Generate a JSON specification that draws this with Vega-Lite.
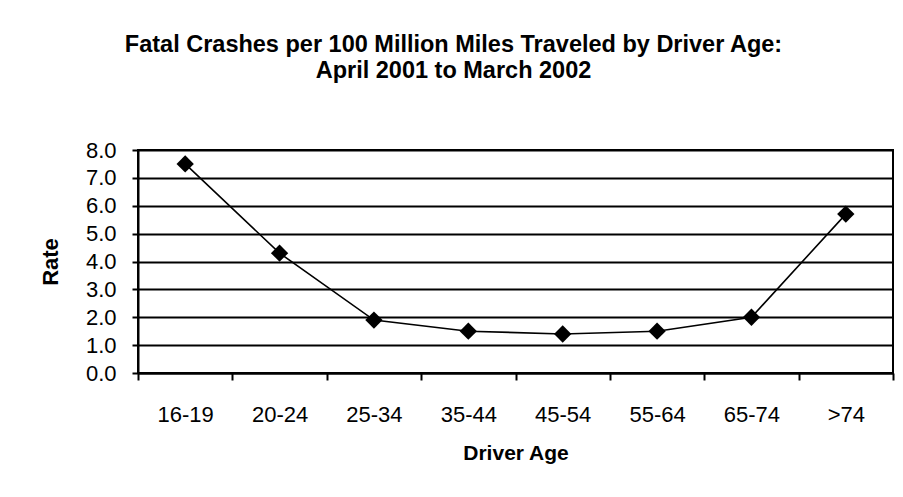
{
  "$schema": "https://vega.github.io/schema/vega-lite/v6.json",
  "autosize": "none",
  "width": 755,
  "height": 223,
  "padding": {"left": 138, "top": 150, "right": 10, "bottom": 124},
  "background": "white",
  "title": {
    "text": ["Fatal Crashes per 100 Million Miles Traveled by Driver Age:", "April 2001 to March 2002"],
    "font": "Liberation Sans",
    "fontSize": 23.5,
    "fontWeight": "bold",
    "color": "black",
    "anchor": "middle",
    "frame": "group",
    "dx": -62,
    "offset": 57,
    "lineHeight": 26
  },
  "data": {
    "values": [
      {"age": "16-19", "rate": 7.5},
      {"age": "20-24", "rate": 4.3},
      {"age": "25-34", "rate": 1.9},
      {"age": "35-44", "rate": 1.5},
      {"age": "45-54", "rate": 1.4},
      {"age": "55-64", "rate": 1.5},
      {"age": "65-74", "rate": 2.0},
      {"age": ">74", "rate": 5.7}
    ]
  },
  "encoding": {
    "x": {
      "field": "age",
      "type": "nominal",
      "sort": null,
      "scale": {"paddingInner": 0, "paddingOuter": 0},
      "axis": {
        "title": "Driver Age",
        "labelAngle": 0,
        "tickBand": "extent",
        "grid": false,
        "domainColor": "black",
        "domainWidth": 2,
        "tickColor": "black",
        "tickWidth": 2,
        "tickSize": 7,
        "labelPadding": 24,
        "labelFont": "Liberation Sans",
        "labelFontSize": 22,
        "labelColor": "black",
        "titleFont": "Liberation Sans",
        "titleFontSize": 21,
        "titleFontWeight": "bold",
        "titleColor": "black",
        "titlePadding": 17
      }
    },
    "y": {
      "field": "rate",
      "type": "quantitative",
      "scale": {"domain": [0, 8], "nice": false},
      "axis": {
        "title": "Rate",
        "values": [0, 1, 2, 3, 4, 5, 6, 7, 8],
        "format": ".1f",
        "grid": true,
        "gridColor": "black",
        "gridWidth": 2.2,
        "gridOpacity": 1,
        "domainColor": "black",
        "domainWidth": 2,
        "tickColor": "black",
        "tickWidth": 2,
        "tickSize": 6,
        "labelPadding": 16,
        "labelFont": "Liberation Sans",
        "labelFontSize": 22,
        "labelColor": "black",
        "titleFont": "Liberation Sans",
        "titleFontSize": 22,
        "titleFontWeight": "bold",
        "titleColor": "black",
        "titlePadding": 23
      }
    }
  },
  "layer": [
    {"mark": {"type": "line", "color": "black", "strokeWidth": 1.6}},
    {"mark": {"type": "point", "shape": "diamond", "filled": true, "color": "black", "size": 300, "opacity": 1}}
  ],
  "config": {
    "view": {"stroke": "black", "strokeWidth": 2}
  }
}
